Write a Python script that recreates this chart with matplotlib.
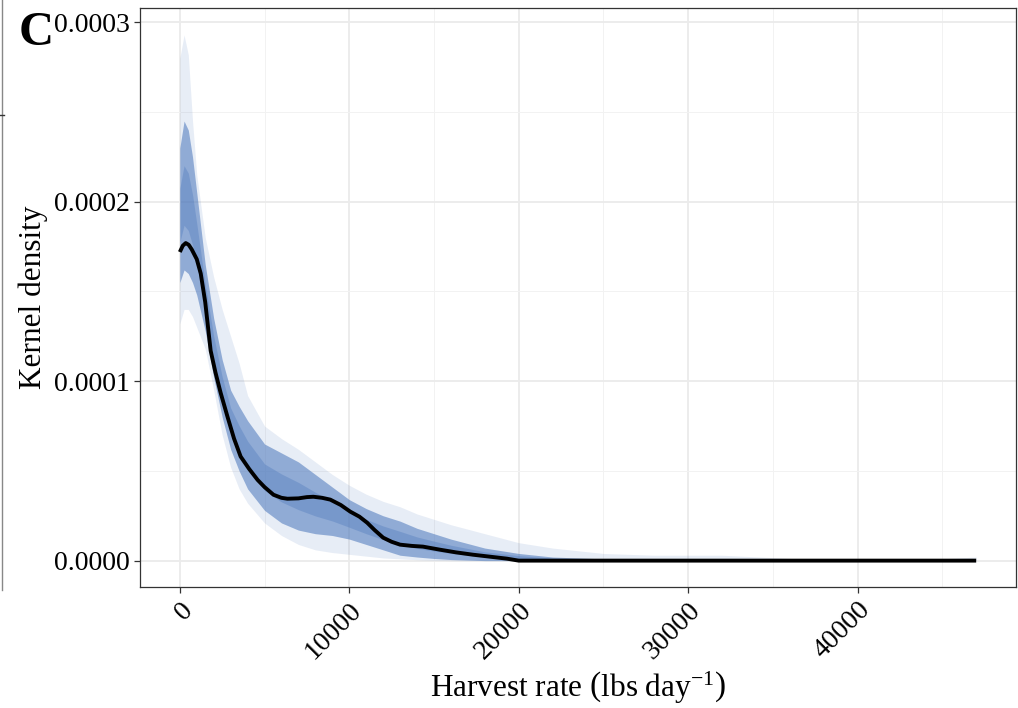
"""
Panel C: kernel density of harvest rate, bootstrap band plus the full-data estimate.
"""

import matplotlib
matplotlib.use("Agg")
import matplotlib.pyplot as plt
from matplotlib.lines import Line2D
import numpy as np

matplotlib.rcParams.update({
    "font.family": "serif",
    "font.serif": ["Liberation Serif", "DejaVu Serif"],
    "mathtext.fontset": "custom",
    "mathtext.rm": "Liberation Serif",
    "mathtext.it": "Liberation Serif:italic",
})

# ── data (density values in units of 1e-4) ──
harvest_x = [0, 175, 350, 525, 700, 1000, 1235, 1500, 1820, 2100, 2410, 2820, 3200,
             3590, 4100, 4590, 5000, 5530, 6000, 6350, 7000, 7500, 7880, 8400,
             8880, 9500, 10060, 10600, 11060, 11500, 12000, 12500, 13000, 13700,
             14350, 15350, 16300, 17300, 18300, 19300, 20000, 47000]
density_all = [1.72, 1.755, 1.77, 1.76, 1.735, 1.68, 1.60, 1.44, 1.17, 1.05, 0.935,
               0.80, 0.68, 0.58, 0.51, 0.45, 0.41, 0.367, 0.35, 0.345, 0.347,
               0.354, 0.356, 0.35, 0.34, 0.31, 0.273, 0.245, 0.211, 0.17, 0.128,
               0.105, 0.089, 0.082, 0.078, 0.061, 0.046, 0.033, 0.022, 0.011, 0.0,
               0.0]

band_x = [0, 250, 500, 750, 1000, 1500, 2000, 2500, 3000, 3500, 4000, 5000, 6000,
          7000, 8000, 9000, 10000, 11000, 12000, 13000, 14000, 15000, 16000,
          18000, 20000, 22000, 25000, 28000, 32000, 36000, 40000, 44000, 47000]
outer_hi = [2.80, 2.93, 2.82, 2.45, 2.15, 1.80, 1.58, 1.40, 1.25, 1.10, 0.92, 0.75,
            0.68, 0.62, 0.55, 0.48, 0.42, 0.37, 0.33, 0.30, 0.26, 0.23, 0.20,
            0.15, 0.10, 0.07, 0.04, 0.03, 0.03, 0.012, 0.005, 0.005, 0.02]
core_hi = [2.30, 2.45, 2.40, 2.25, 2.05, 1.65, 1.35, 1.12, 0.95, 0.86, 0.78, 0.65,
           0.60, 0.55, 0.48, 0.41, 0.34, 0.29, 0.25, 0.22, 0.18, 0.15, 0.12,
           0.07, 0.04, 0.02, 0.01, 0.003, 0.0, 0.0, 0.0, 0.0, 0.0]
core_lo = [1.55, 1.62, 1.60, 1.55, 1.48, 1.28, 1.02, 0.80, 0.62, 0.50, 0.40, 0.28,
           0.21, 0.17, 0.15, 0.14, 0.12, 0.09, 0.06, 0.03, 0.02, 0.012, 0.006,
           0.0, 0.0, 0.0, 0.0, 0.0, 0.0, 0.0, 0.0, 0.0, 0.0]
outer_lo = [1.32, 1.40, 1.40, 1.36, 1.30, 1.18, 0.95, 0.70, 0.52, 0.40, 0.32, 0.21,
            0.14, 0.09, 0.06, 0.045, 0.035, 0.025, 0.015, 0.01, 0.005, 0.002, 0.0,
            0.0, 0.0, 0.0, 0.0, 0.0, 0.0, 0.0, 0.0, 0.0, 0.0]

x_ticks = [0, 10000, 20000, 30000, 40000]
y_ticks = [0.0, 0.0001, 0.0002, 0.0003]


def main():
    W, H = 1018, 708
    fig = plt.figure(figsize=(W / 100, H / 100), dpi=100)
    ax = fig.add_axes([140 / W, 1 - 587 / H, (1016 - 140) / W, (587 - 8) / H])

    bx = np.array(band_x)
    sc = 1e-4
    blue = "#4a76bb"
    ax.fill_between(bx, np.array(outer_lo) * sc, np.array(outer_hi) * sc,
                    color=blue, alpha=0.13, lw=0)
    ax.fill_between(bx, np.array(core_lo) * sc, np.array(core_hi) * sc,
                    color=blue, alpha=0.55, lw=0)
    # denser middle of the band
    mid_lo = (np.array(core_lo) * 0.7 + np.array(core_hi) * 0.3) * sc
    mid_hi = (np.array(core_lo) * 0.3 + np.array(core_hi) * 0.7) * sc
    ax.fill_between(bx, mid_lo, mid_hi, color=blue, alpha=0.35, lw=0)

    ax.plot(harvest_x, np.array(density_all) * sc, color="black", lw=2.8,
            solid_capstyle="butt", solid_joinstyle="round", zorder=5)

    ax.set_xlim(-2350, 49350)
    ax.set_ylim(-0.0000147, 0.000308)
    ax.set_xticks(x_ticks)
    ax.set_xticks([5000, 15000, 25000, 35000, 45000], minor=True)
    ax.set_yticks(y_ticks)
    ax.set_yticks([0.00005, 0.00015, 0.00025], minor=True)
    ax.set_yticklabels([f"{v:.4f}" for v in y_ticks], fontsize=20)
    ax.set_xticklabels([str(v) for v in x_ticks], fontsize=20, rotation=45,
                       ha="right", va="top", rotation_mode="anchor")

    ax.grid(True, which="major", color="#ebebeb", lw=1.3, zorder=0)
    ax.grid(True, which="minor", color="#f2f2f2", lw=0.7, zorder=0)
    ax.set_axisbelow(True)
    for s in ax.spines.values():
        s.set_color("#333333")
        s.set_linewidth(0.9)
    ax.tick_params(which="major", length=4.5, width=0.9, color="#333333",
                   labelcolor="black", pad=3)
    ax.tick_params(which="minor", length=0)

    ax.set_ylabel("Kernel density", fontsize=22.5, labelpad=4)
    ax.set_xlabel(r"Harvest rate $\left(\mathrm{lbs\ day}^{-1}\right)$",
                  fontsize=22.5, labelpad=4)

    fig.text(19 / W, 1 - 33 / H, "C", fontsize=35, fontweight="bold",
             ha="left", va="center")

    # edge of the neighbouring panel
    fig.add_artist(Line2D([1.5 / W, 1.5 / W], [1, 1 - 590 / H],
                          transform=fig.transFigure, color="#888888", lw=1))
    fig.add_artist(Line2D([0, 4 / W], [1 - 115 / H, 1 - 115 / H],
                          transform=fig.transFigure, color="#333333", lw=1))

    fig.savefig("out.png", dpi=100, facecolor="white")
    plt.close(fig)


if __name__ == "__main__":
    main()
